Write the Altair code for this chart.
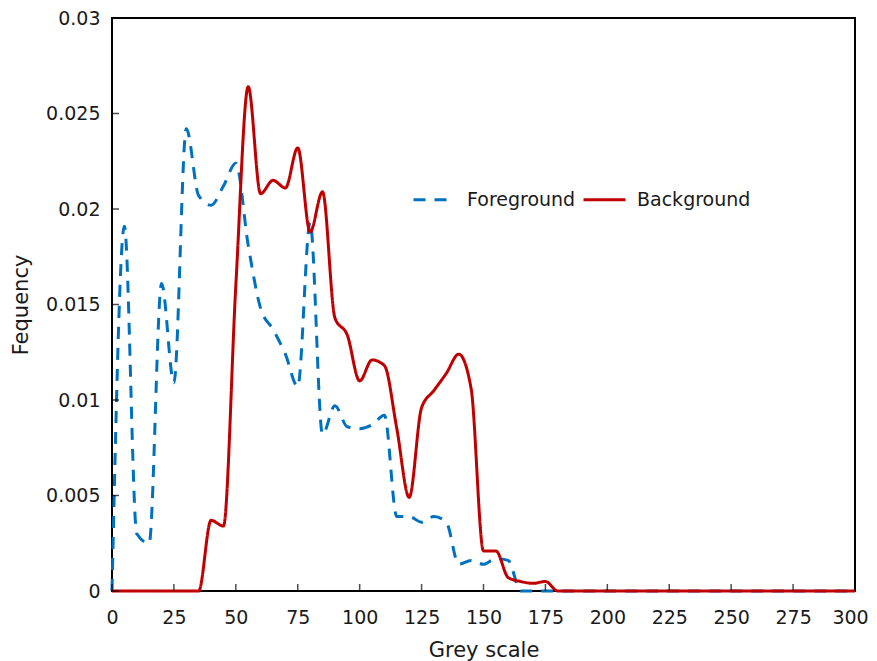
import altair as alt
import pandas as pd

grey = [0, 5, 10, 15, 20, 25, 30, 35, 40, 45, 50, 55, 60, 65, 70, 75, 80, 85, 90, 95,
        100, 105, 110, 115, 120, 125, 130, 135, 140, 145, 150, 155, 160, 165, 170, 175,
        180, 185, 190, 195, 200, 205, 210, 215, 220, 225, 230, 235, 240, 245, 250, 255,
        260, 265, 270, 275, 280, 285, 290, 295, 300]

foreground = [0, 0.0191, 0.0030, 0.0025, 0.0161, 0.0109, 0.0242, 0.0207, 0.0202, 0.0212,
              0.0224, 0.0181, 0.0148, 0.0137, 0.0124, 0.0107, 0.0193, 0.0082, 0.0097, 0.0086,
              0.0085, 0.0087, 0.0092, 0.0039, 0.0039, 0.0036, 0.0039, 0.0036, 0.0014, 0.0016,
              0.0014, 0.0017, 0.0016, 0, 0, 0,
              0, 0, 0, 0, 0, 0, 0, 0, 0, 0, 0, 0, 0, 0, 0, 0,
              0, 0, 0, 0, 0, 0, 0, 0, 0]

background = [0, 0, 0, 0, 0, 0, 0, 0, 0.0037, 0.0034,
              0.0160, 0.0264, 0.0208, 0.0215, 0.0211, 0.0232, 0.0188, 0.0209, 0.0143, 0.0134,
              0.0110, 0.0121, 0.0118, 0.0085, 0.0049, 0.0096, 0.0105, 0.0114, 0.0124, 0.0106,
              0.0021, 0.0021, 0.0007, 0.0005, 0.0004, 0.0005,
              0, 0, 0, 0, 0, 0, 0, 0, 0, 0, 0, 0, 0, 0, 0, 0,
              0, 0, 0, 0, 0, 0, 0, 0, 0]

series_names = ["Foreground", "Background"]
series_colors = ["#0070C0", "#C00000"]
x_ticks = [0, 25, 50, 75, 100, 125, 150, 175, 200, 225, 250, 275, 300]
y_ticks = [0, 0.005, 0.01, 0.015, 0.02, 0.025, 0.03]

rows = []
for g, f, b in zip(grey, foreground, background):
    rows.append({"grey": g, "value": f, "series": "Foreground"})
    rows.append({"grey": g, "value": b, "series": "Background"})
df = pd.DataFrame(rows)

FONT = "DejaVu Sans"
W, H = 743, 573

xscale = alt.Scale(domain=[0, 300], nice=False, zero=False)
yscale = alt.Scale(domain=[0, 0.03], nice=False)

legend_kw = dict(title=None, orient="none", direction="horizontal",
                 legendX=300, legendY=159, symbolType="stroke",
                 symbolSize=1764, symbolStrokeWidth=3,
                 labelFontSize=19, labelFont=FONT, labelColor="#1a1a1a",
                 labelOffset=10, columnPadding=1)

lines = alt.Chart(df).mark_line(strokeWidth=3, interpolate="monotone").encode(
    x=alt.X("grey:Q", scale=xscale,
            axis=alt.Axis(values=x_ticks, title="Grey scale", labelPadding=17,
                          titlePadding=12, labelFlush=False,
                          labelOffset={"condition": {"test": "datum.value == 300",
                                                     "value": -5},
                                       "value": 0})),
    y=alt.Y("value:Q", scale=yscale,
            axis=alt.Axis(values=y_ticks, format="~g", title="Fequency",
                          labelPadding=12, titlePadding=14, labelFlush=False)),
    color=alt.Color("series:N",
                    scale=alt.Scale(domain=series_names, range=series_colors),
                    legend=alt.Legend(**legend_kw)),
    strokeDash=alt.StrokeDash("series:N",
                              scale=alt.Scale(domain=series_names, range=[[12, 9], [1, 0]]),
                              legend=alt.Legend(**legend_kw)),
)

xt = alt.Chart(pd.DataFrame({"t": x_ticks})).mark_tick(
    orient="vertical", size=7, thickness=1.5, color="#000"
).encode(x=alt.X("t:Q", scale=xscale), y=alt.value(H - 3.5))

yt = alt.Chart(pd.DataFrame({"t": y_ticks})).mark_tick(
    orient="horizontal", size=7, thickness=1.5, color="#000"
).encode(y=alt.Y("t:Q", scale=yscale), x=alt.value(3.5))

chart = alt.layer(lines, xt, yt).properties(
    width=W, height=H,
    background="white",
    autosize=alt.AutoSizeParams(type="none"),
    padding={"left": 104, "top": 10, "right": 14, "bottom": 70},
).configure_view(
    stroke="#000", strokeWidth=2
).configure_axis(
    ticks=False, tickSize=0, domain=False, grid=False, labelFlush=False,
    labelFontSize=19, titleFontSize=21, labelColor="#1a1a1a", titleColor="#1a1a1a",
    labelFont=FONT, titleFont=FONT, titleFontWeight="normal"
)

chart.save("out.html", embed_options={"renderer": "svg", "actions": False})
